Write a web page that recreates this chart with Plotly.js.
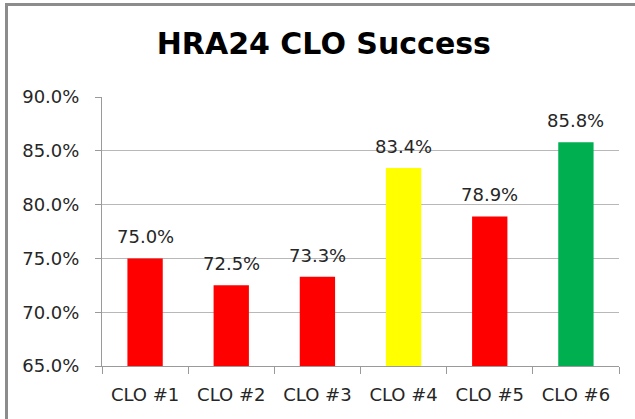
<!DOCTYPE html>
<html>
<head>
<meta charset="utf-8">
<script src="https://cdn.plot.ly/plotly-3.0.1.min.js"></script>
<style>
  html, body { margin: 0; padding: 0; background: #fff; }
  #wrap { position: relative; width: 635px; height: 419px; overflow: hidden; }
  #chart { position: absolute; left: 0; top: 0; width: 635px; height: 419px; }
  #frame { position: absolute; left: 5px; top: 3px; width: 700px; height: 500px;
           border-top: 3px solid #8c8c8c; border-left: 3px solid #8c8c8c; pointer-events: none; }
</style>
</head>
<body>
<div id="wrap">
  <div id="chart"></div>
  <div id="frame"></div>
</div>
<script>
const categories = ["CLO #1", "CLO #2", "CLO #3", "CLO #4", "CLO #5", "CLO #6"];
const values = [0.750, 0.725, 0.733, 0.834, 0.789, 0.858];
const labels = ["75.0%", "72.5%", "73.3%", "83.4%", "78.9%", "85.8%"];
const barColors = ["#ff0000", "#ff0000", "#ff0000", "#ffff00", "#ff0000", "#00b050"];
const yTicks = [0.65, 0.70, 0.75, 0.80, 0.85, 0.90];
const yTickText = ["65.0%", "70.0%", "75.0%", "80.0%", "85.0%", "90.0%"];
const yMin = 0.65;

const font = "DejaVu Sans, Verdana, sans-serif";

const trace = {
  type: "bar",
  x: categories,
  y: values.map(v => v - yMin),
  base: yMin,
  marker: { color: barColors, line: { width: 0 } },
  hoverinfo: "none"
};

const annotations = categories.map((c, i) => ({
  x: c, y: values[i], xref: "x", yref: "y",
  text: labels[i], showarrow: false,
  yanchor: "bottom", yshift: 9,
  font: { family: font, size: 18, color: "#262626" }
}));

const layout = {
  width: 635, height: 419,
  margin: { l: 102, r: 16, t: 97, b: 53 },
  paper_bgcolor: "#ffffff", plot_bgcolor: "#ffffff",
  showlegend: false,
  bargap: 0.59,
  title: {
    text: "<b>HRA24 CLO Success</b>",
    font: { family: font, size: 30, color: "#000000" },
    x: 0.51, xanchor: "center",
    y: 1 - 43 / 419, yref: "container", yanchor: "middle"
  },
  xaxis: {
    type: "category",
    tickson: "boundaries",
    ticks: "outside", ticklen: 7, tickcolor: "#9a9a9a", tickwidth: 1,
    showline: true, linecolor: "#9a9a9a", linewidth: 1,
    showgrid: false,
    ticklabelstandoff: 12,
    tickfont: { family: font, size: 18, color: "#262626" },
    fixedrange: true
  },
  yaxis: {
    range: [0.65, 0.90],
    tickvals: yTicks, ticktext: yTickText,
    ticks: "outside", ticklen: 6, tickcolor: "#9a9a9a", tickwidth: 1,
    showline: true, linecolor: "#9a9a9a", linewidth: 1,
    showgrid: true, gridcolor: "#b8b8b8", gridwidth: 1,
    zeroline: false,
    ticklabelstandoff: 12,
    tickfont: { family: font, size: 18, color: "#262626" },
    fixedrange: true
  },
  annotations: annotations
};

Plotly.newPlot("chart", [trace], layout, { staticPlot: true, displayModeBar: false });
</script>
</body>
</html>
